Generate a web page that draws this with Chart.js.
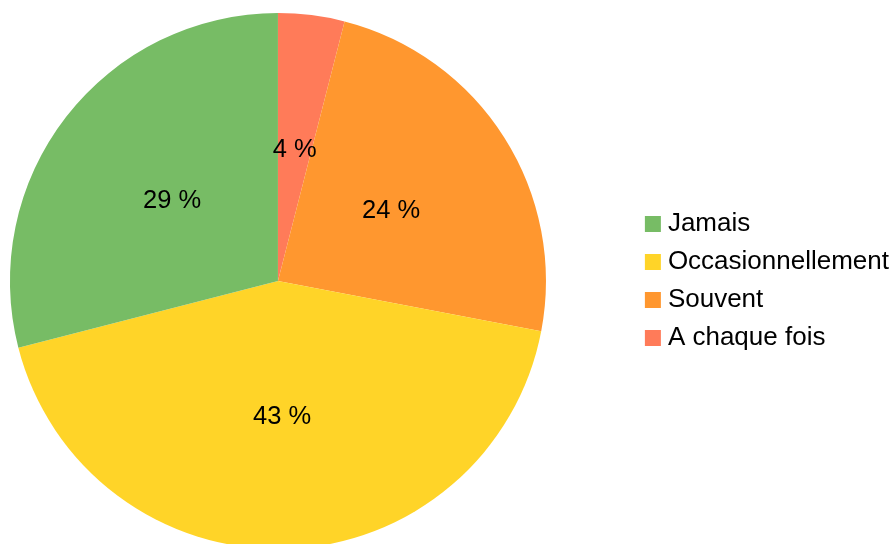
<!DOCTYPE html>
<html>
<head>
<meta charset="utf-8">
<script src="https://cdn.jsdelivr.net/npm/chart.js@4.4.1/dist/chart.umd.min.js"></script>
<style>
  html, body { margin: 0; padding: 0; background: #ffffff; overflow: hidden; }
  /* le canevas déborde à gauche et en bas : le camembert est coupé en bas */
  #wrap { position: relative; width: 977px; height: 562px; margin-left: -83px; }
</style>
</head>
<body>
<div id="wrap"><canvas id="pieChart"></canvas></div>
<script>
// Réponses (ordre de la légende)
const categories = ['Jamais', 'Occasionnellement', 'Souvent', 'A chaque fois'];
const values = [29, 43, 24, 4];
const colors = ['#77bc65', '#ffd428', '#ff972f', '#ff7b59'];

// le camembert tourne dans le sens horaire : on inverse pour garder la légende dans l'ordre
const drawLabels = categories.slice().reverse();
const drawValues = values.slice().reverse();
const drawColors = colors.slice().reverse();

// pourcentages au milieu de chaque part
const sliceLabels = {
    id: 'sliceLabels',
    afterDatasetsDraw(chart) {
        const ctx = chart.ctx;
        const meta = chart.getDatasetMeta(0);
        ctx.save();
        ctx.font = '25.5px "Liberation Sans", Arial, sans-serif';
        ctx.fillStyle = '#000000';
        ctx.textAlign = 'center';
        ctx.textBaseline = 'middle';
        meta.data.forEach((arc, i) => {
            const p = arc.tooltipPosition();
            ctx.fillText(drawValues[i] + ' %', p.x, p.y + 2);
        });
        ctx.restore();
    }
};

const ctx = document.getElementById('pieChart').getContext('2d');

new Chart(ctx, {
    type: 'pie',
    data: {
        labels: drawLabels,
        datasets: [{
            data: drawValues,
            backgroundColor: drawColors,
            borderWidth: 0,
            hoverOffset: 0,
            offset: 0
        }]
    },
    options: {
        responsive: true,
        maintainAspectRatio: false,
        animation: false,
        rotation: 0,
        layout: {
            padding: { left: 0, right: -5, top: 13, bottom: 13 }
        },
        plugins: {
            legend: {
                display: true,
                position: 'right',
                labels: {
                    color: '#000000',
                    font: { family: '"Liberation Sans", Arial, sans-serif', size: 26 },
                    usePointStyle: true,
                    pointStyle: 'rect',
                    boxWidth: 4,
                    boxHeight: 16,
                    padding: 12,
                    sort: (a, b) => b.index - a.index
                }
            },
            tooltip: { enabled: false }
        }
    },
    plugins: [sliceLabels]
});
</script>
</body>
</html>
